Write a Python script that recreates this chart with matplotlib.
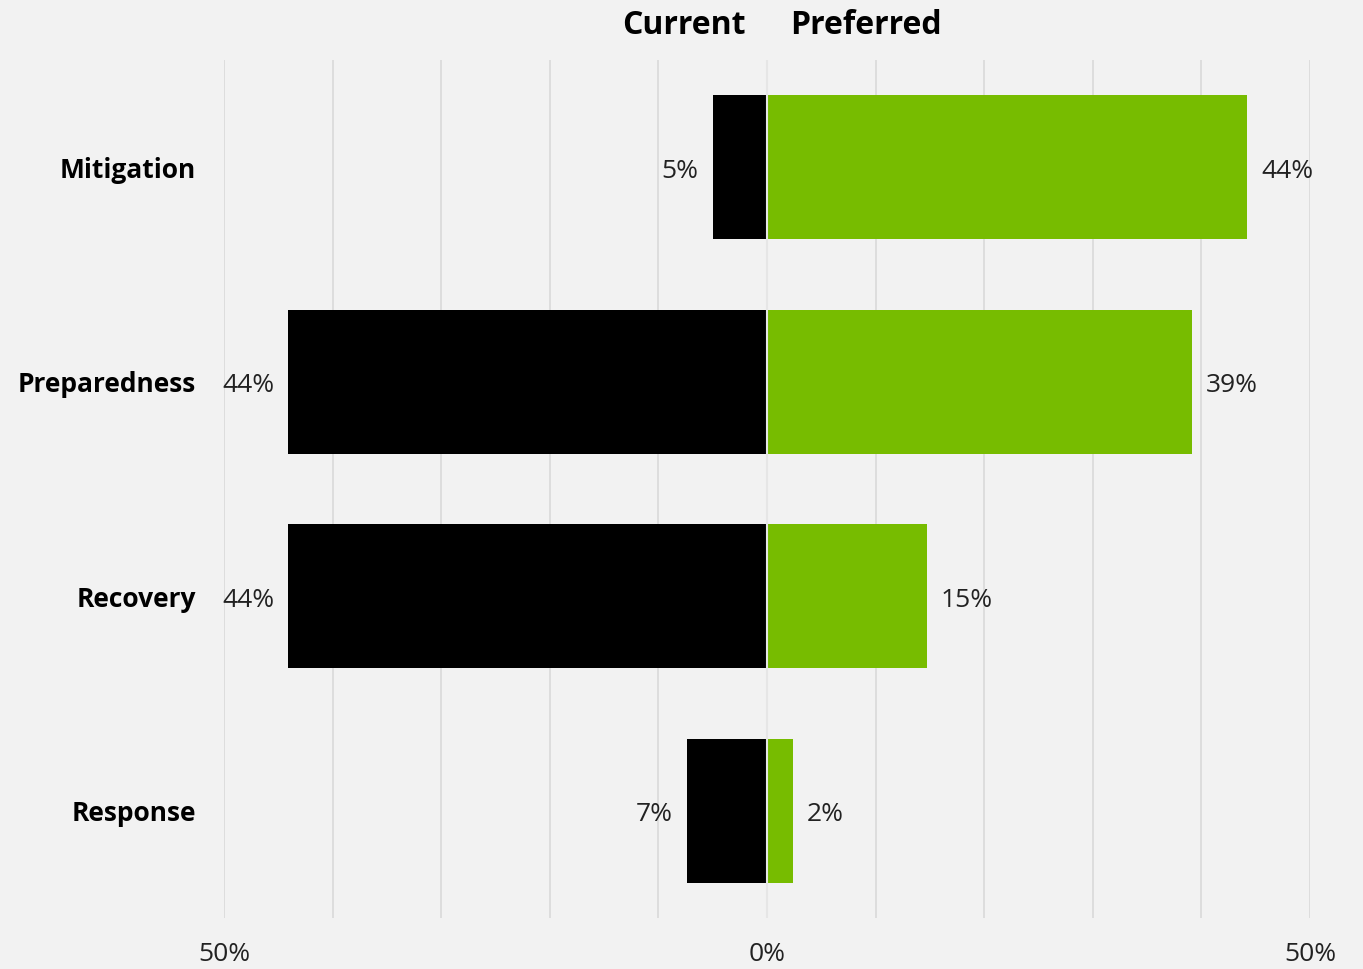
import matplotlib
matplotlib.use("Agg")
import matplotlib.pyplot as plt

categories = ["Mitigation", "Preparedness", "Recovery", "Response"]
current = [5.0, 44.1, 44.1, 7.4]
preferred = [44.2, 39.1, 14.7, 2.4]
tick_positions = [-50, 0, 50]
tick_labels = ["50%", "0%", "50%"]

plt.rcParams['font.family'] = ['Open Sans', 'DejaVu Sans']

bg = "#f2f2f2"
green = "#77bc00"
W, H = 1363, 969
fig = plt.figure(figsize=(W/100, H/100), dpi=100, facecolor=bg)
ax = fig.add_axes([224/W, 1-918/H, (1310-224)/W, (918-60)/H], facecolor=bg)

y = list(range(len(categories)))
ax.barh(y, [-v for v in current], height=0.67, color="black", zorder=2)
ax.barh(y, preferred, height=0.67, color=green, zorder=2)
ax.axvline(0, color="#e6e6e6", lw=1.5, zorder=3)

ax.set_xlim(-50, 50)
ax.set_ylim(3.5, -0.5)
for gx in range(-50, 51, 10):
    if gx != 0:
        ax.axvline(gx, color="#d9d9d9", lw=1.2, zorder=1)

for i, (c, p) in enumerate(zip(current, preferred)):
    ax.annotate(f"{round(c)}%", (-c, i), xytext=(-10, -3), textcoords="offset points",
                ha="right", va="center", fontsize=19, color="#222222")
    ax.annotate(f"{round(p)}%", (p, i), xytext=(10, -3), textcoords="offset points",
                ha="left", va="center", fontsize=19, color="#222222")

ax.set_yticks(y)
ax.set_yticklabels(categories, fontsize=19, fontweight="bold")
ax.tick_params(axis="y", length=0, pad=20)
ax.set_xticks(tick_positions)
ax.set_xticklabels(tick_labels, fontsize=19, color="#222222")
ax.tick_params(axis="x", length=0, pad=17)
for s in ax.spines.values():
    s.set_visible(False)

fig.text(746/W, 1-25/H, "Current", ha="right", va="center", fontsize=23, fontweight="bold")
fig.text(790/W, 1-25/H, "Preferred", ha="left", va="center", fontsize=23, fontweight="bold")

fig.savefig("out.png", dpi=100, facecolor=bg)
